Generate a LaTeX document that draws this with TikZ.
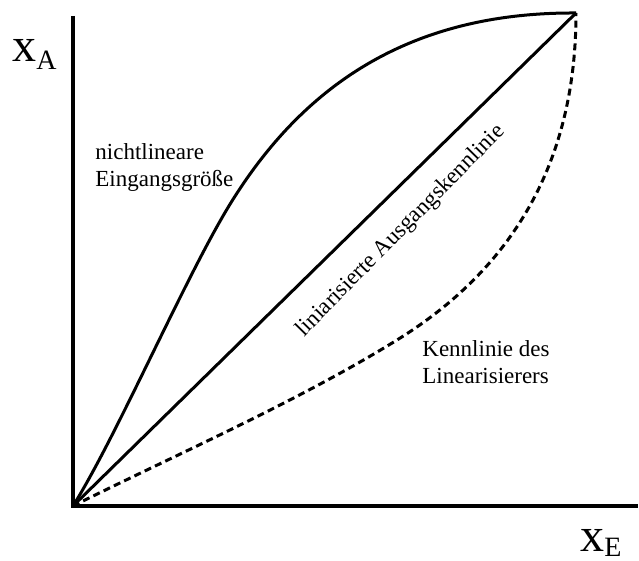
\documentclass[tikz,border=0pt]{standalone}
\usepackage{fontspec}
\setmainfont{Liberation Serif}
\usetikzlibrary{positioning, calc}

\tikzset{
  axis/.style={line width=1.8pt},
  kurve/.style={line width=1.5pt},
  gestrichelt/.style={line width=1.5pt, dash pattern=on 3.5pt off 2.2pt},
  beschriftung/.style={inner sep=0pt, align=left, font=\fontsize{11.5}{13.5}\selectfont}
}

\begin{document}
\begin{tikzpicture}[x=0.5pt,y=-0.5pt]
\useasboundingbox (0,0) rectangle (639,561);

\coordinate (O) at (73,506);
\coordinate (P) at (576,13);
\coordinate (W) at (232,201);
\coordinate (K) at (397,340);

% Achsen
\draw[axis] (73,16) -- (O) -- (638,506);
\node[inner sep=0pt, anchor=base west] (xA) at (12,62)
  {\fontsize{24}{28}\selectfont x\raisebox{-4pt}{\fontsize{14}{16}\selectfont A}};
\node[inner sep=0pt, anchor=base west] (xE) at (580,552)
  {\fontsize{24}{28}\selectfont x\raisebox{-2.5pt}{\fontsize{14}{16}\selectfont E}};

% nichtlineare Eingangsgroesse
\draw[kurve] (O) .. controls (118,434) and (187,273) .. (W)
  .. controls (302,89) and (406,12) .. (P);

% linearisierte Kennlinie
\draw[kurve] (O) -- (P);

% Kennlinie des Linearisierers
\draw[gestrichelt] (O) .. controls (173,456) and (297,402) .. (K)
  .. controls (512,269) and (576,163) .. (P);

\node[beschriftung, anchor=west] (nonlin) at (95,168)
  {nichtlineare\\Eingangsgröße};
\node[beschriftung, rotate=45.5] (lin) at (401,231)
  {liniarisierte Ausgangskennlinie};
\node[beschriftung, anchor=west] (kenn) at (422,362)
  {Kennlinie des\\Linearisierers};

\end{tikzpicture}
\end{document}
